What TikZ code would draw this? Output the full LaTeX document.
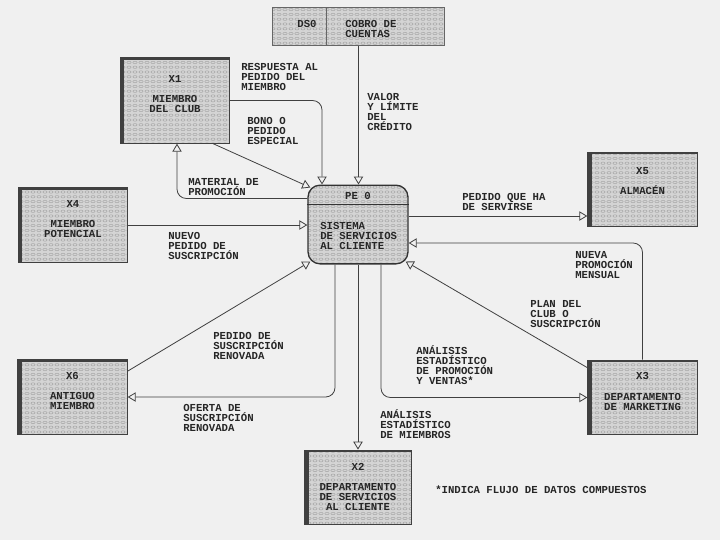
\documentclass[tikz,border=0pt]{standalone}
\usepackage{fontspec}
\newfontfamily\dfdfont{Liberation Mono}
\usetikzlibrary{arrows.meta,calc,positioning,patterns}

\newcommand{\dfdtext}{\dfdfont\bfseries\fontsize{8}{7.5}\selectfont\lineskiplimit=-5pt}

% small ovals, like the screen of the printed boxes
\pgfdeclarepatternformonly{ovals}{\pgfqpoint{-1pt}{-1pt}}{\pgfqpoint{5pt}{4pt}}{\pgfqpoint{4.5pt}{3.6pt}}{
  \pgfsetlinewidth{0.3pt}
  \pgfpathellipse{\pgfqpoint{2.25pt}{1.8pt}}{\pgfqpoint{1.6pt}{0pt}}{\pgfqpoint{0pt}{0.9pt}}
  \pgfusepath{stroke}
}

\tikzset{
  entity/.style={rectangle, draw=black!75, line width=0.8pt,
    preaction={fill=black!17}, pattern=ovals, pattern color=black!38,
    minimum width=82pt, minimum height=56pt, inner sep=1pt, align=center,
    text depth=9pt, font=\dfdtext, text=black!85,
    path picture={
      \fill[black!75] (path picture bounding box.north west) rectangle ([xshift=3pt]path picture bounding box.south west);
      \fill[black!75] (path picture bounding box.north west) rectangle ([yshift=-1.5pt]path picture bounding box.north east);
    }},
  process/.style={rectangle, rounded corners=9pt, draw=black!80, line width=1pt,
    preaction={fill=black!17}, pattern=ovals, pattern color=black!38,
    minimum width=75pt, minimum height=59pt},
  store/.style={rectangle, draw=black!60, line width=0.6pt,
    preaction={fill=black!17}, pattern=ovals, pattern color=black!38,
    minimum width=129pt, minimum height=28pt, inner sep=0pt},
  flow/.style={draw=black!75, line width=0.6pt, rounded corners=7pt,
    -{Triangle[open, length=6pt, width=7pt]}},
  flowlabel/.style={anchor=north west, inner sep=0pt, align=left,
    font=\dfdtext, text=black!85},
}

\begin{document}
\begin{tikzpicture}[x=0.75pt, y=-0.75pt]
    \fill[black!6] (0,0) rectangle (720,540);
    \useasboundingbox (0,0) rectangle (720,540);

    % Data store
    \node[store] (ds0) at (358.5,26.5) {};
    \draw[black!60, line width=0.6pt] ($(ds0.north west)+(54,0)$) -- ($(ds0.south west)+(54,0)$);
    \node[font=\dfdtext, text=black!85] (ds0id) at (307,24) {DS0};
    \node[flowlabel] (ds0name) at (345,20) {COBRO DE\\CUENTAS};

    % External entities
    \node[entity, minimum height=64pt, text depth=10pt] (x1) at (175,100.5) {X1\\[8pt]MIEMBRO\\DEL CLUB};
    \node[entity] (x4) at (73,225) {X4\\[8pt]MIEMBRO\\POTENCIAL};
    \node[entity, text depth=13pt] (x5) at (642.5,189.5) {X5\\[8pt]ALMACÉN};
    \node[entity] (x3) at (642.5,397.5) {X3\\[8pt]DEPARTAMENTO\\DE MARKETING};
    \node[entity] (x6) at (72.5,397) {X6\\[8pt]ANTIGUO\\MIEMBRO};
    \node[entity, minimum width=80pt, text depth=1pt] (x2) at (358,487.5) {X2\\[8pt]DEPARTAMENTO\\DE SERVICIOS\\AL CLIENTE};

    % Process
    \node[process] (pe0) at (358,224.5) {};
    \draw[black!80, line width=0.8pt] ($(pe0.north west)+(0,20)$) -- ($(pe0.north east)+(0,20)$);
    \node[font=\dfdtext, text=black!85] (pe0id) at (358,196) {PE 0};
    \node[flowlabel] (pe0name) at (320,222) {SISTEMA\\DE SERVICIOS\\AL CLIENTE};

    % Data flows
    \draw[flow] (x1.east) -| ($(pe0.north)+(-36,0)$);
    \draw[flow] (ds0.south) -- (ds0.south |- pe0.north);
    \draw[flow] ($(x1.south east)+(-17,0)$) -- ($(pe0.north west)+(3,3)$);
    \draw[flow] ($(pe0.west)+(0,-26)$) -| ($(x1.south)+(2,0)$);
    \draw[flow] (x4.east) -- (x4.east -| pe0.west);
    \coordinate (servir) at ($(pe0.east)+(0,-8.5)$);
    \draw[flow] (servir) -- (servir -| x5.west);
    \draw[flow] (x3.north) |- ($(pe0.east)+(0,18.5)$);
    \draw[flow] ($(x3.north west)+(0,8)$) -- ($(pe0.south east)+(-3,-3)$);
    \draw[flow] ($(pe0.south)+(23,0)$) |- (x3.west);
    \draw[flow] (pe0.south) -- (x2.north);
    \draw[flow] ($(pe0.south)+(-23,0)$) |- (x6.east);
    \draw[flow] ($(x6.north east)+(0,12)$) -- ($(pe0.south west)+(3,-3)$);

    % Flow labels
    \node[flowlabel] (lresp) at (241,63) {RESPUESTA AL\\PEDIDO DEL\\MIEMBRO};
    \node[flowlabel] (lvalor) at (367,93) {VALOR\\Y LÍMITE\\DEL\\CRÉDITO};
    \node[flowlabel] (lbono) at (247,117) {BONO O\\PEDIDO\\ESPECIAL};
    \node[flowlabel] (lmat) at (188,178) {MATERIAL DE\\PROMOCIÓN};
    \node[flowlabel] (lnuevo) at (168,232) {NUEVO\\PEDIDO DE\\SUSCRIPCIÓN};
    \node[flowlabel] (lservir) at (462,193) {PEDIDO QUE HA\\DE SERVIRSE};
    \node[flowlabel] (lpromo) at (575,251) {NUEVA\\PROMOCIÓN\\MENSUAL};
    \node[flowlabel] (lplan) at (530,300) {PLAN DEL\\CLUB O\\SUSCRIPCIÓN};
    \node[flowlabel] (lanpv) at (416,345) {ANÁLISIS\\ESTADÍSTICO\\DE PROMOCIÓN\\Y VENTAS*};
    \node[flowlabel] (lanmi) at (380,409) {ANÁLISIS\\ESTADÍSTICO\\DE MIEMBROS};
    \node[flowlabel] (lpedren) at (213,332) {PEDIDO DE\\SUSCRIPCIÓN\\RENOVADA};
    \node[flowlabel] (lofer) at (183,404) {OFERTA DE\\SUSCRIPCIÓN\\RENOVADA};
    \node[flowlabel] (lnota) at (435,485) {*INDICA FLUJO DE DATOS COMPUESTOS};
\end{tikzpicture}
\end{document}
